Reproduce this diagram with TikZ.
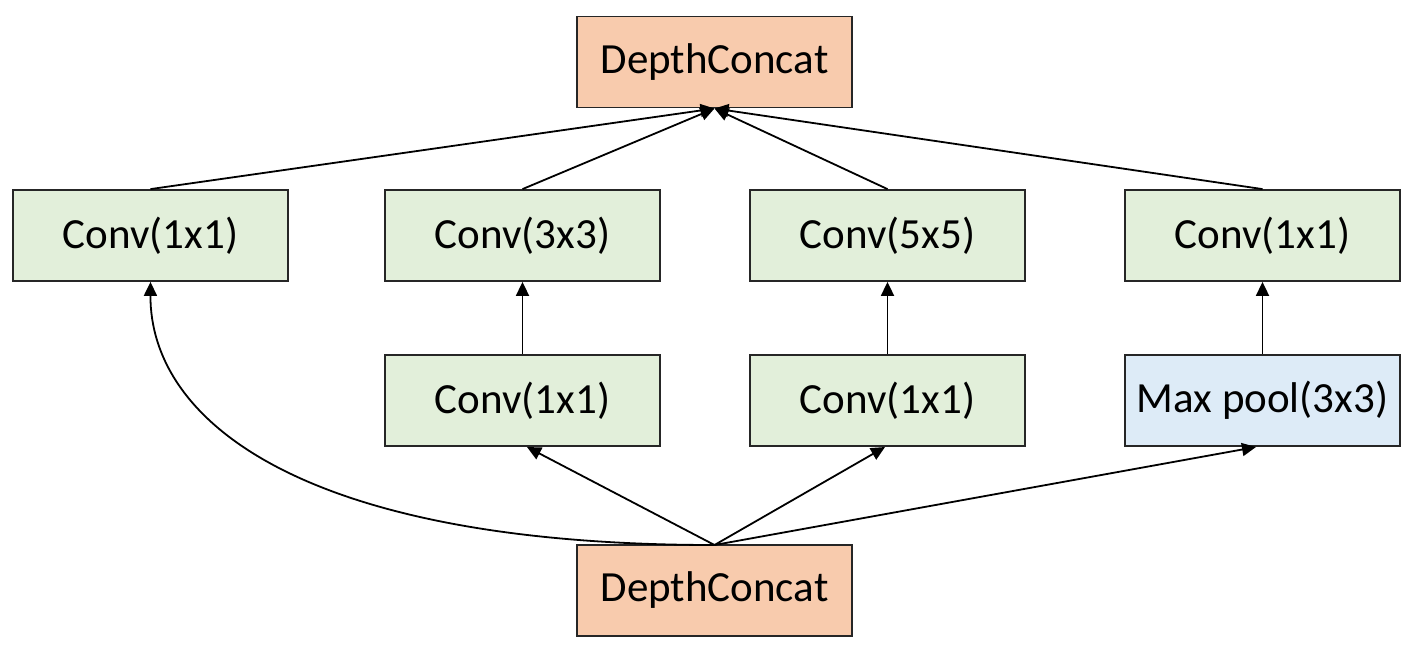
\documentclass[tikz,border=0pt]{standalone}
\usepackage{fontspec}
\setmainfont{Carlito}
\usetikzlibrary{arrows.meta}
\definecolor{greenbox}{HTML}{E2EFDA}
\definecolor{orangebox}{HTML}{F8CBAD}
\definecolor{bluebox}{HTML}{DDEBF7}
\begin{document}
\begin{tikzpicture}[x=1pt,y=-1pt,
  box/.style={draw=black!85,line width=1.8pt,minimum width=275pt,minimum height=91pt,inner sep=0pt,
    font=\fontsize{43}{50}\selectfont,anchor=center},
  gbox/.style={box,fill=greenbox},
  obox/.style={box,fill=orangebox},
  bbox/.style={box,fill=bluebox},
  arr/.style={line width=1.8pt,-{Triangle[length=14pt,width=13pt]}}]
\useasboundingbox (0,0) rectangle (1418,654);
\node[obox] (top) at (714.5,62) {DepthConcat};
\node[gbox] (a1) at (150.5,235.5) {Conv(1x1)};
\node[gbox] (b1) at (522.5,235.5) {Conv(3x3)};
\node[gbox] (c1) at (887.5,235.5) {Conv(5x5)};
\node[gbox] (d1) at (1262.5,235.5) {Conv(1x1)};
\node[gbox] (b2) at (522.5,400.5) {Conv(1x1)};
\node[gbox] (c2) at (887.5,400.5) {Conv(1x1)};
\node[bbox] (d2) at (1262.5,400.5) {Max pool(3x3)};
\node[obox] (bot) at (714.5,590.5) {DepthConcat};
\coordinate (tin) at (714.5,108.5);
\draw[arr] (a1.north) -- (tin);
\draw[arr] (d1.north) -- (tin);
\draw[arr] (b1.north) -- (tin);
\draw[arr] (c1.north) -- (tin);
\draw[arr] (b2.north) -- (b1.south);
\draw[arr] (c2.north) -- (c1.south);
\draw[arr] (d2.north) -- (d1.south);
\coordinate (bout) at (714.5,545);
\draw[arr] (bout) -- (527,447);
\draw[arr] (bout) -- (885,447);
\draw[arr] (bout) -- (1256,447);
\draw[arr] (bout) .. controls (300,545) and (150,420) .. (a1.south);
\end{tikzpicture}
\end{document}
